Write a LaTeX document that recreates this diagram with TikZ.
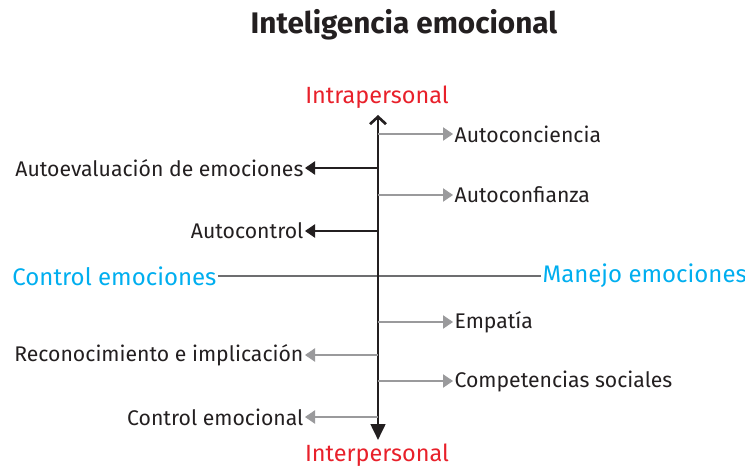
\documentclass[tikz,border=0pt]{standalone}
\usepackage{fontspec}
\setmainfont{Fira Sans}
\usepackage{tikz}
\usetikzlibrary{arrows.meta,positioning}

\definecolor{rojo}{HTML}{E8202A}
\definecolor{celeste}{HTML}{00AEEF}
\definecolor{oscuro}{HTML}{231F20}
\definecolor{gris}{HTML}{9A9A9C}
\definecolor{grisejes}{HTML}{6D6E70}

\tikzset{
  texto/.style={font=\fontsize{15.9}{18}\selectfont,text=oscuro,inner sep=1pt},
  polo/.style={font=\fontsize{17.6}{20}\selectfont,text=rojo,inner sep=0pt},
  lado/.style={font=\fontsize{18}{20}\selectfont,text=celeste,inner sep=1pt},
  rama/.style={draw=gris,line width=0.8pt,-{Triangle[length=7.5pt,width=10pt]}},
  ramaosc/.style={draw=oscuro,line width=0.8pt,-{Triangle[length=7.5pt,width=10pt]}},
}

\begin{document}
\begin{tikzpicture}
    [x=0.75pt,y=-0.75pt]

    \useasboundingbox (0,0) rectangle (745,470);

    \node[font=\fontsize{22.3}{25}\selectfont\bfseries,text=oscuro] (titulo) at (404,25) {Inteligencia emocional};
    \node[polo] (intra) at (377,97) {Intrapersonal};
    \node[polo] (inter) at (377,455) {Interpersonal};
    \coordinate (arriba) at (378,115);
    \coordinate (abajo) at (378,440);

    \node[lado,anchor=east] (control) at (218,276) {Control emociones};
    \node[lado,anchor=west] (manejo) at (541,276) {Manejo emociones};

    \node[texto,anchor=west] (conciencia) at (453,134) {Autoconciencia};
    \node[texto,anchor=west] (confianza) at (453,195) {Autoconfianza};
    \node[texto,anchor=west] (empatia) at (453,322) {Empatía};
    \node[texto,anchor=west] (sociales) at (453,381) {Competencias sociales};
    \node[texto,anchor=east] (evaluacion) at (305,168) {Autoevaluación de emociones};
    \node[texto,anchor=east] (autocontrol) at (305,231) {Autocontrol};
    \node[texto,anchor=east] (reconoc) at (305,355) {Reconocimiento e implicación};
    \node[texto,anchor=east] (emocional) at (305,417) {Control emocional};

    \draw[draw=grisejes,line width=2.2pt] (control) -- (manejo);
    \draw[draw=oscuro,line width=2pt,{Straight Barb[length=5.5pt,width=12pt]}-{Triangle[length=12pt,width=11pt]}]
      (arriba) -- (abajo);

    \path
    (arriba |- conciencia) edge [rama] (conciencia)
    (arriba |- confianza) edge [rama] (confianza)
    (arriba |- empatia) edge [rama] (empatia)
    (arriba |- sociales) edge [rama] (sociales)
    (arriba |- evaluacion) edge [ramaosc] (evaluacion)
    (arriba |- autocontrol) edge [ramaosc] (autocontrol)
    (arriba |- reconoc) edge [rama] (reconoc)
    (arriba |- emocional) edge [rama] (emocional)
    ;

\end{tikzpicture}
\end{document}
